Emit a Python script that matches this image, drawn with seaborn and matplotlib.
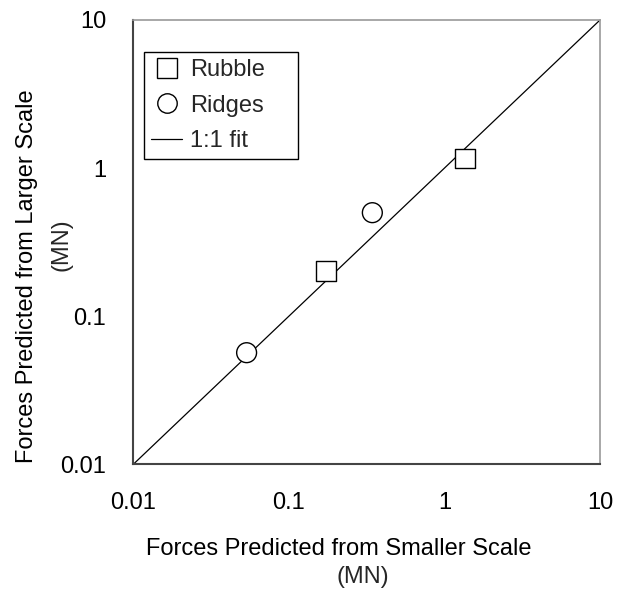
import matplotlib
matplotlib.use("Agg")
import matplotlib.pyplot as plt
from matplotlib.lines import Line2D
import seaborn as sns
import pandas as pd

# Predicted forces (MN): smaller-scale model vs larger-scale model
rubble_small = [0.173, 1.36]
rubble_large = [0.203, 1.16]
ridges_small = [0.0535, 0.344]
ridges_large = [0.0567, 0.50]
fit_line = [0.01, 10]
tick_values = [0.01, 0.1, 1, 10]
tick_labels = ["0.01", "0.1", "1", "10"]

sns.set_theme(style="white")
plt.rcParams["font.family"] = ["Liberation Sans", "DejaVu Sans"]

df = pd.DataFrame({
    "small": rubble_small + ridges_small,
    "large": rubble_large + ridges_large,
    "type": ["Rubble"] * len(rubble_small) + ["Ridges"] * len(ridges_small),
})

fig = plt.figure(figsize=(6.26, 5.91), dpi=100)
ax = fig.add_axes([133.3 / 626, (591 - 464.3) / 591, 466.7 / 626, 444.3 / 591])

sns.lineplot(x=fit_line, y=fit_line, ax=ax, color="black", linewidth=0.9,
             legend=False)
sns.scatterplot(data=df, x="small", y="large", style="type",
                markers={"Rubble": "s", "Ridges": "o"},
                s=205, facecolor="white", edgecolor="black", linewidth=1.0,
                ax=ax, legend=False, zorder=3)

ax.set_xscale("log")
ax.set_yscale("log")
ax.set_xlim(0.01, 10)
ax.set_ylim(0.01, 10)
ax.set_xticks(tick_values)
ax.set_xticklabels(tick_labels)
ax.set_yticks(tick_values)
ax.set_yticklabels(tick_labels)
ax.minorticks_off()
ax.tick_params(axis="both", which="major", direction="out", labelsize=17,
               color="#444444", width=1.2, labelcolor="black")
ax.tick_params(axis="x", length=6, pad=14)
ax.tick_params(axis="y", length=7, pad=12.5)
ax.grid(False)

for side in ["left", "bottom"]:
    ax.spines[side].set_color("#444444")
    ax.spines[side].set_linewidth(1.5)
for side in ["top", "right"]:
    ax.spines[side].set_color("#999999")
    ax.spines[side].set_linewidth(1.2)

ax.set_xlabel("Forces Predicted from Smaller Scale", fontsize=17, color="black")
ax.xaxis.set_label_coords(0.4397, -0.1906)
ax.xaxis.label.set_va("center")
ax.text(0.492, -0.2532, "(MN)", transform=ax.transAxes, fontsize=17,
        ha="center", va="center")

ax.set_ylabel("Forces Predicted from Larger Scale", fontsize=17, color="black")
ax.yaxis.set_label_coords(-0.2278, 0.4238)
ax.yaxis.label.set_va("center")
ax.text(-0.1549, 0.4934, "(MN)", transform=ax.transAxes, fontsize=17,
        ha="center", va="center", rotation=90)

# Legend in series order
handles = [
    Line2D([], [], marker="s", linestyle="none", markersize=14,
           markerfacecolor="white", markeredgecolor="black", markeredgewidth=1.0),
    Line2D([], [], marker="o", linestyle="none", markersize=14,
           markerfacecolor="white", markeredgecolor="black", markeredgewidth=1.0),
    Line2D([], [], color="black", linewidth=0.9),
]
leg_x0 = 11.0 / 466.7
leg_w = 154.0 / 466.7
leg_top = (464.3 - 52.3) / 444.3
leg = ax.legend(handles, ["Rubble", "Ridges", "1:1 fit"], loc="upper left",
                bbox_to_anchor=(leg_x0, leg_top - 0.3, leg_w, 0.3),
                mode="expand", borderaxespad=0,
                fontsize=17, frameon=True, fancybox=False, framealpha=1,
                edgecolor="black", handlelength=1.3, handletextpad=0.35,
                borderpad=0.3, labelspacing=0.56)
leg.get_frame().set_linewidth(1.0)

fig.savefig("out.png", dpi=100)
